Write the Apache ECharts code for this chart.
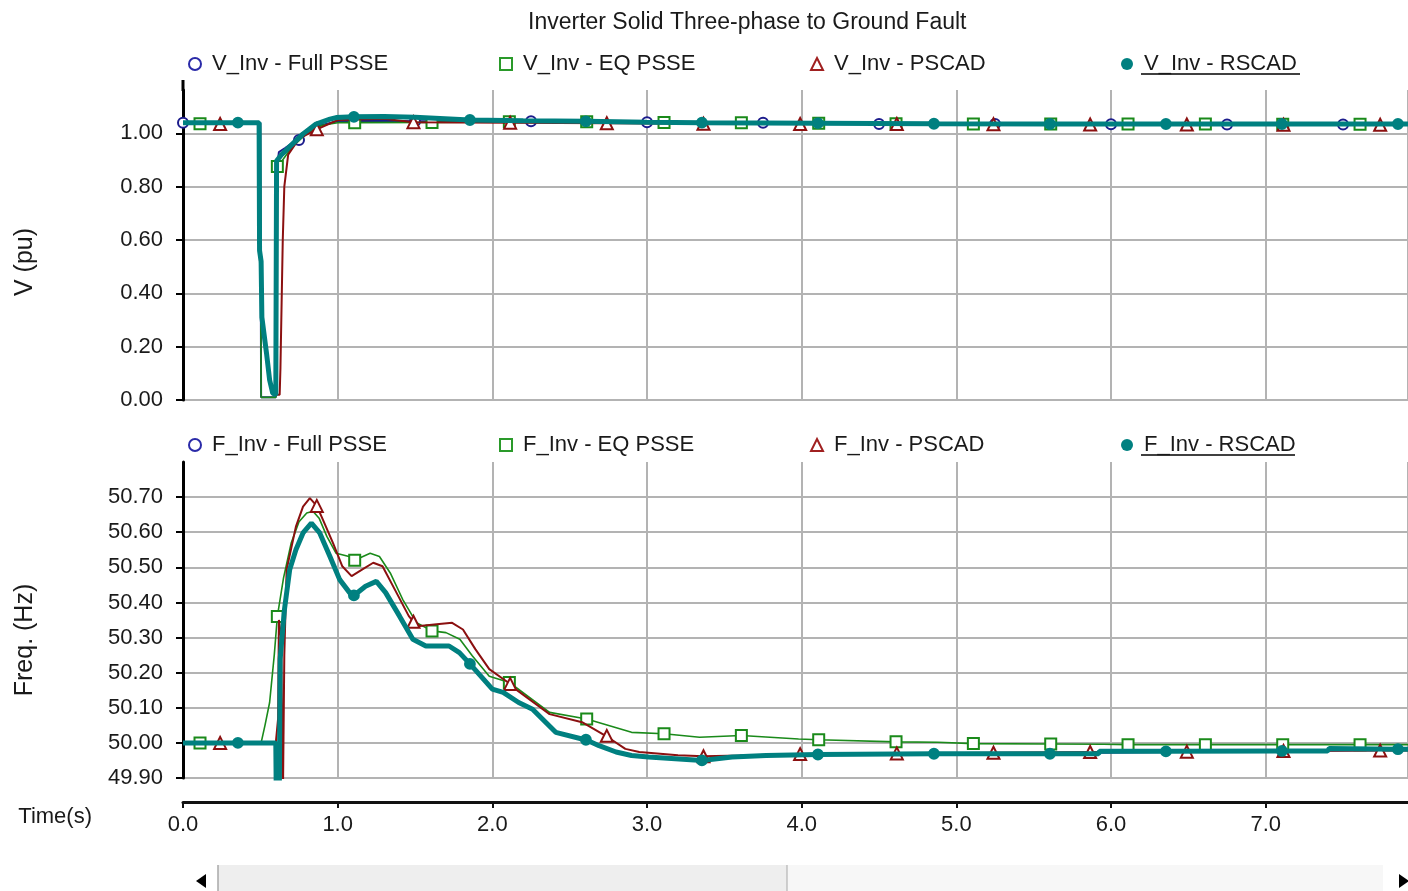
<!DOCTYPE html>
<html>
<head>
<meta charset="utf-8">
<script src="https://cdn.jsdelivr.net/npm/echarts@6/dist/echarts.min.js"></script>
<style>html,body{margin:0;padding:0;background:#fff;}#c{width:1408px;height:891px;}</style>
</head>
<body>
<div id="c"></div>
<script>
// ---------------- DATA ----------------
const titleText = 'Inverter Solid Three-phase to Ground Fault';
const vNames = ['V_Inv - Full PSSE', 'V_Inv - EQ PSSE', 'V_Inv - PSCAD', 'V_Inv - RSCAD'];
const fNames = ['F_Inv - Full PSSE', 'F_Inv - EQ PSSE', 'F_Inv - PSCAD', 'F_Inv - RSCAD'];
const vTickValues = [0, 0.2, 0.4, 0.6, 0.8, 1.0];
const fTickValues = [49.9, 50.0, 50.1, 50.2, 50.3, 50.4, 50.5, 50.6, 50.7];

// Voltage (pu)
const vFullT = [0, 0.5, 0.505, 0.6, 0.605, 0.62, 0.66, 0.71, 0.75, 0.85, 1.0, 1.23, 1.4, 1.5, 2.25, 3.0, 3.75, 4.5, 5.25, 6.0, 6.75, 7.5, 7.92];
const vFullV = [1.04, 1.04, 0.01, 0.01, 0.86, 0.93, 0.945, 0.965, 0.975, 1.025, 1.045, 1.047, 1.046, 1.045, 1.045, 1.042, 1.04, 1.035, 1.035, 1.034, 1.033, 1.033, 1.033];
const vFullMarks = [0, 0.75, 1.5, 2.25, 3.0, 3.75, 4.5, 5.25, 6.0, 6.75, 7.5];

const vEqT = [0, 0.11, 0.5, 0.505, 0.6, 0.605, 0.61, 0.65, 0.7, 0.8, 0.9, 1.0, 1.11, 1.61, 2.11, 2.61, 3.11, 3.61, 4.11, 4.61, 5.11, 5.61, 6.11, 6.61, 7.11, 7.61, 7.92];
const vEqV = [1.04, 1.036, 1.036, 0.01, 0.01, 0.85, 0.876, 0.905, 0.945, 1.0, 1.03, 1.04, 1.04, 1.041, 1.043, 1.043, 1.041, 1.04, 1.038, 1.036, 1.035, 1.035, 1.035, 1.035, 1.034, 1.034, 1.034];
const vEqMarks = [0.11, 0.61, 1.11, 1.61, 2.11, 2.61, 3.11, 3.61, 4.11, 4.61, 5.11, 5.61, 6.11, 6.61, 7.11, 7.61];

const vPscadT = [0, 0.24, 0.492, 0.495, 0.51, 0.54, 0.56, 0.58, 0.6, 0.625, 0.63, 0.645, 0.655, 0.68, 0.75, 0.865, 1.0, 1.3, 1.49, 2.115, 2.74, 3.365, 3.99, 4.615, 5.24, 5.865, 6.49, 7.115, 7.74, 7.92];
const vPscadV = [1.035, 1.035, 1.035, 0.56, 0.31, 0.175, 0.075, 0.026, 0.02, 0.02, 0.12, 0.6, 0.8, 0.92, 0.98, 1.015, 1.05, 1.055, 1.042, 1.04, 1.038, 1.036, 1.035, 1.035, 1.034, 1.033, 1.033, 1.032, 1.032, 1.032];
const vPscadMarks = [0.24, 0.865, 1.49, 2.115, 2.74, 3.365, 3.99, 4.615, 5.24, 5.865, 6.49, 7.115, 7.74];

const vRscadT = [0, 0.355, 0.492, 0.495, 0.505, 0.51, 0.54, 0.56, 0.58, 0.6, 0.605, 0.635, 0.69, 0.776, 0.86, 0.95, 0.99, 1.105, 1.3, 1.5, 1.855, 2.2, 2.605, 3.0, 3.355, 4.105, 4.855, 5.605, 6.355, 7.105, 7.855, 7.92];
const vRscadV = [1.04, 1.04, 1.04, 0.56, 0.52, 0.31, 0.175, 0.075, 0.026, 0.019, 0.896, 0.919, 0.95, 0.998, 1.035, 1.053, 1.059, 1.062, 1.063, 1.06, 1.05, 1.047, 1.045, 1.042, 1.04, 1.038, 1.036, 1.035, 1.035, 1.035, 1.035, 1.035];
const vRscadMarks = [0.355, 1.105, 1.855, 2.605, 3.355, 4.105, 4.855, 5.605, 6.355, 7.105, 7.855];

// Frequency (Hz)
const fFullT = [0, 0.6, 0.604, 0.622, 0.628, 0.656, 0.69, 0.73, 0.776, 0.83, 0.884, 0.95, 1.013, 1.077, 1.105, 1.18, 1.25, 1.31, 1.4, 1.486, 1.57, 1.72, 1.787, 1.855, 2.0, 2.07, 2.17, 2.26, 2.41, 2.58, 2.69, 2.8, 2.9, 3.01, 3.355, 3.55, 3.77, 4.105, 5.605, 5.92, 7.4, 7.92];
const fFullV = [50.0, 50.0, 49.8, 49.8, 50.238, 50.38, 50.494, 50.55, 50.598, 50.626, 50.598, 50.531, 50.465, 50.428, 50.42, 50.446, 50.46, 50.428, 50.361, 50.295, 50.276, 50.276, 50.257, 50.225, 50.153, 50.144, 50.115, 50.096, 50.03, 50.011, 49.992, 49.974, 49.964, 49.96, 49.95, 49.96, 49.964, 49.967, 49.969, 49.972, 49.978, 49.98];
const fFullMarks = [];

const fEqT = [0, 0.11, 0.505, 0.53, 0.56, 0.59, 0.61, 0.65, 0.7, 0.75, 0.8, 0.84, 0.88, 0.93, 0.99, 1.08, 1.11, 1.21, 1.27, 1.34, 1.42, 1.51, 1.61, 1.7, 1.79, 1.87, 1.98, 2.11, 2.37, 2.61, 2.9, 3.11, 3.34, 3.61, 3.98, 4.11, 4.61, 4.88, 5.11, 5.61, 5.95, 6.11, 6.61, 7.11, 7.61, 7.92];
const fEqV = [50.0, 50.0, 50.0, 50.05, 50.115, 50.25, 50.36, 50.47, 50.57, 50.63, 50.655, 50.66, 50.64, 50.588, 50.54, 50.53, 50.52, 50.54, 50.531, 50.484, 50.409, 50.342, 50.319, 50.314, 50.295, 50.248, 50.19, 50.172, 50.087, 50.068, 50.03, 50.026, 50.016, 50.021, 50.011, 50.009, 50.003, 50.002, 49.998, 49.997, 49.996, 49.995, 49.995, 49.995, 49.995, 49.995];
const fEqMarks = [0.11, 0.61, 1.11, 1.61, 2.11, 2.61, 3.11, 3.61, 4.11, 4.61, 5.11, 5.61, 6.11, 6.61, 7.11, 7.61];

const fPscadT = [0, 0.24, 0.6, 0.615, 0.62, 0.635, 0.645, 0.655, 0.67, 0.73, 0.776, 0.82, 0.865, 0.905, 0.97, 1.03, 1.09, 1.16, 1.23, 1.29, 1.38, 1.46, 1.49, 1.53, 1.64, 1.74, 1.81, 1.89, 1.98, 2.07, 2.115, 2.15, 2.37, 2.58, 2.73, 2.74, 2.86, 2.95, 3.2, 3.365, 3.6, 3.99, 4.615, 5.24, 5.865, 6.49, 7.115, 7.74, 7.92];
const fPscadV = [50.0, 50.0, 50.0, 50.07, 50.35, 50.3, 49.8, 50.25, 50.494, 50.616, 50.673, 50.697, 50.675, 50.635, 50.569, 50.503, 50.475, 50.494, 50.513, 50.503, 50.428, 50.361, 50.345, 50.333, 50.338, 50.342, 50.323, 50.267, 50.21, 50.182, 50.168, 50.153, 50.082, 50.059, 50.021, 50.02, 49.983, 49.974, 49.965, 49.962, 49.964, 49.968, 49.97, 49.972, 49.974, 49.975, 49.977, 49.978, 49.978];
const fPscadMarks = [0.24, 0.865, 1.49, 2.115, 2.74, 3.365, 3.99, 4.615, 5.24, 5.865, 6.49, 7.115, 7.74];

const fRscadT = [0, 0.355, 0.6, 0.604, 0.622, 0.628, 0.656, 0.69, 0.73, 0.776, 0.83, 0.884, 0.95, 1.013, 1.077, 1.105, 1.18, 1.25, 1.31, 1.4, 1.486, 1.57, 1.72, 1.787, 1.855, 2.0, 2.07, 2.17, 2.26, 2.41, 2.58, 2.605, 2.69, 2.8, 2.9, 3.01, 3.355, 3.55, 3.77, 4.105, 4.855, 5.605, 5.92, 5.925, 6.355, 7.105, 7.4, 7.41, 7.855, 7.92];
const fRscadV = [50.0, 50.0, 50.0, 49.8, 49.8, 50.238, 50.38, 50.494, 50.55, 50.598, 50.626, 50.598, 50.531, 50.465, 50.428, 50.42, 50.446, 50.46, 50.428, 50.361, 50.295, 50.276, 50.276, 50.257, 50.225, 50.153, 50.144, 50.115, 50.096, 50.03, 50.011, 50.009, 49.992, 49.974, 49.964, 49.96, 49.95, 49.96, 49.964, 49.967, 49.969, 49.969, 49.969, 49.976, 49.976, 49.977, 49.977, 49.984, 49.982, 49.982];
const fRscadMarks = [0.355, 1.105, 1.855, 2.605, 3.355, 4.105, 4.855, 5.605, 6.355, 7.105, 7.855];

// ---------------- CHART ----------------
const FONT = '"Liberation Sans", Arial, sans-serif';
const TXT = '#1a1a1a';
const GRIDC = '#b3b3b3';
const C_FULL = '#1c1c8c', C_EQ = '#1a8a1a', C_PSCAD = '#8b1010', C_RSCAD = '#008080';

function mk(name, tArr, vArr, marks, color, width, symbol, size, idx, z) {
  const ms = new Set(marks);
  return {
    name: name, type: 'line', xAxisIndex: idx, yAxisIndex: idx,
    data: tArr.map((t, i) => [t, vArr[i]]),
    showSymbol: true, showAllSymbol: true,
    symbol: function (val) { return ms.has(val[0]) ? symbol : 'none'; },
    symbolSize: size,
    color: color,
    itemStyle: { color: color, borderColor: color, borderWidth: 1.8 },
    lineStyle: { color: color, width: width },
    emphasis: { disabled: true },
    silent: true, animation: false, clip: true, z: z
  };
}

function legend(names, top) {
  return {
    data: [
      { name: names[0], icon: 'emptyCircle', itemStyle: { color: '#2a2aa8', borderColor: '#2a2aa8', borderWidth: 1.8 } },
      { name: names[1], icon: 'emptyRect', itemStyle: { color: '#2a9a2a', borderColor: '#2a9a2a', borderWidth: 1.8 } },
      { name: names[2], icon: 'emptyTriangle', itemStyle: { color: '#a02020', borderColor: '#a02020', borderWidth: 1.8 } },
      { name: names[3], icon: 'circle', itemStyle: { color: C_RSCAD, borderWidth: 0 } }
    ],
    left: 183, top: top, orient: 'horizontal', width: 1400,
    itemWidth: 12, itemHeight: 12, itemGap: 16,
    selectedMode: false,
    textStyle: { fontSize: 22, fontFamily: FONT, color: TXT, width: 271, lineHeight: 24, padding: [0, 0, 0, 6] }
  };
}

const yLabel = { fontSize: 22, fontFamily: FONT, color: TXT, margin: 20, showMaxLabel: false };

const option = {
  backgroundColor: '#fff',
  animation: false,
  title: { text: titleText, left: 523, top: 6, textStyle: { fontSize: 23, fontWeight: 'normal', fontFamily: FONT, color: TXT } },
  legend: [legend(vNames, 47), legend(fNames, 428)],
  grid: [
    { left: 183, right: -1, top: 90, bottom: 491 },
    { left: 183, right: -1, top: 462, bottom: 113 }
  ],
  xAxis: [
    { gridIndex: 0, type: 'value', min: 0, max: 7.92, interval: 1,
      axisLine: { show: false }, axisTick: { show: false }, axisLabel: { show: false },
      splitLine: { show: true, lineStyle: { color: GRIDC, width: 2 } } },
    { gridIndex: 1, type: 'value', min: 0, max: 7.92, interval: 1, offset: 24,
      axisLine: { show: true, onZero: false, lineStyle: { color: '#111', width: 3 } },
      axisTick: { show: true, length: 6, lineStyle: { color: '#111', width: 2 } },
      axisLabel: { fontSize: 22, fontFamily: FONT, color: TXT, margin: 12, showMaxLabel: false, formatter: v => v.toFixed(1) },
      splitLine: { show: true, lineStyle: { color: GRIDC, width: 2 } },
      name: 'Time(s)', nameLocation: 'start', nameGap: 91,
      nameTextStyle: { fontSize: 22, fontFamily: FONT, color: TXT, verticalAlign: 'top', padding: [4, 0, 0, 0] } }
  ],
  yAxis: [
    { gridIndex: 0, type: 'value', min: 0, max: 1.1625, interval: 0.2,
      axisLine: { show: true, onZero: false, lineStyle: { color: '#000', width: 3 } },
      axisTick: { show: true, length: 7, customValues: vTickValues, lineStyle: { color: '#000', width: 2 } },
      axisLabel: Object.assign({ formatter: v => v.toFixed(2) }, yLabel),
      splitLine: { show: true, lineStyle: { color: GRIDC, width: 2 } } },
    { gridIndex: 1, type: 'value', min: 49.9, max: 50.8, interval: 0.1,
      axisLine: { show: true, onZero: false, lineStyle: { color: '#000', width: 3 } },
      axisTick: { show: true, length: 7, customValues: fTickValues, lineStyle: { color: '#000', width: 2 } },
      axisLabel: Object.assign({ formatter: v => v.toFixed(2) }, yLabel),
      splitLine: { show: true, lineStyle: { color: GRIDC, width: 2 } } }
  ],
  series: [
    mk(vNames[0], vFullT, vFullV, vFullMarks, C_FULL, 2, 'emptyCircle', 10, 0, 2),
    mk(vNames[1], vEqT, vEqV, vEqMarks, C_EQ, 1.6, 'emptyRect', 11, 0, 3),
    mk(vNames[2], vPscadT, vPscadV, vPscadMarks, C_PSCAD, 2, 'emptyTriangle', 12, 0, 4),
    mk(vNames[3], vRscadT, vRscadV, vRscadMarks, C_RSCAD, 5, 'circle', 10, 0, 5),
    mk(fNames[0], fFullT, fFullV, fFullMarks, C_FULL, 2, 'emptyCircle', 10, 1, 2),
    mk(fNames[1], fEqT, fEqV, fEqMarks, C_EQ, 1.6, 'emptyRect', 11, 1, 3),
    mk(fNames[2], fPscadT, fPscadV, fPscadMarks, C_PSCAD, 2, 'emptyTriangle', 12, 1, 4),
    mk(fNames[3], fRscadT, fRscadV, fRscadMarks, C_RSCAD, 5, 'circle', 10, 1, 5)
  ],
  graphic: [
    { type: 'text', x: 25, y: 262, rotation: Math.PI / 2,
      style: { text: 'V (pu)', fontSize: 25, fontFamily: FONT, fill: TXT, align: 'center', verticalAlign: 'middle' } },
    { type: 'text', x: 25, y: 640, rotation: Math.PI / 2,
      style: { text: 'Freq. (Hz)', fontSize: 25, fontFamily: FONT, fill: TXT, align: 'center', verticalAlign: 'middle' } },
    // legend underline (focused item)
    { type: 'line', shape: { x1: 1141, y1: 74, x2: 1300, y2: 74 }, style: { stroke: '#000', lineWidth: 1.5 } },
    { type: 'line', shape: { x1: 1141, y1: 455, x2: 1295, y2: 455 }, style: { stroke: '#000', lineWidth: 1.5 } },
    // top segment of y axis line
    { type: 'line', shape: { x1: 183, y1: 80, x2: 183, y2: 91 }, style: { stroke: '#000', lineWidth: 3 } },
    // scrollbar
    { type: 'rect', shape: { x: 218, y: 865, width: 1165, height: 26 }, style: { fill: '#f7f7f7' } },
    { type: 'rect', shape: { x: 218, y: 865, width: 569, height: 26 }, style: { fill: '#eeeeee' } },
    { type: 'line', shape: { x1: 218, y1: 865, x2: 218, y2: 891 }, style: { stroke: '#a8a8a8', lineWidth: 1.5 } },
    { type: 'line', shape: { x1: 787, y1: 865, x2: 787, y2: 891 }, style: { stroke: '#a8a8a8', lineWidth: 1 } },
    { type: 'polygon', shape: { points: [[206, 874], [206, 888], [196, 881]] }, style: { fill: '#000' } },
    { type: 'polygon', shape: { points: [[1399, 874], [1399, 888], [1409, 881]] }, style: { fill: '#000' } }
  ]
};

const chart = echarts.init(document.getElementById('c'), null, { renderer: 'canvas' });
chart.setOption(option);
</script>
</body>
</html>
